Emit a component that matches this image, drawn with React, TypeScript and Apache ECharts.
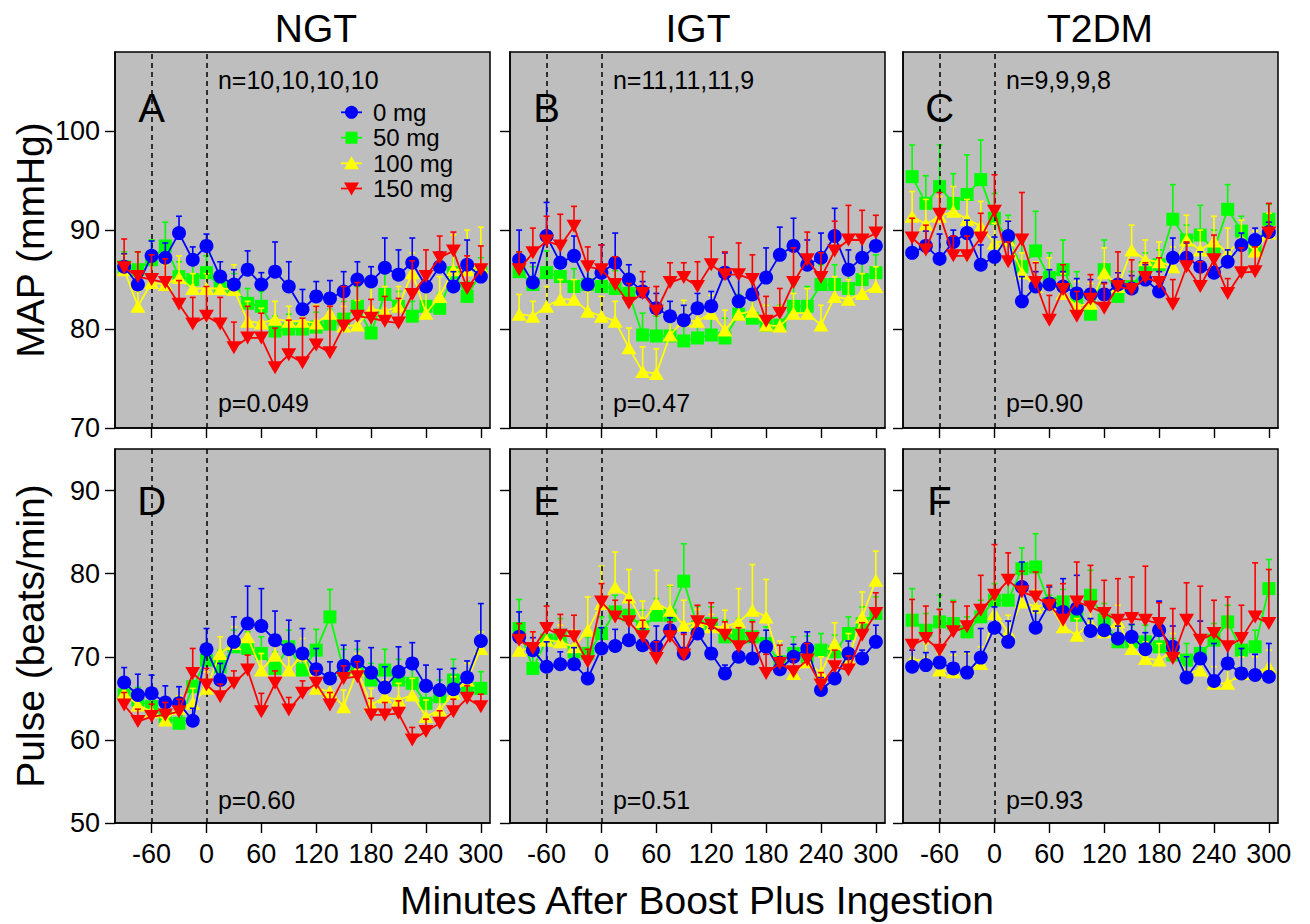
import React, { useEffect, useRef } from "react";
import * as echarts from "echarts";

// ---------- DATA ----------
const times = [-90, -75, -60, -45, -30, -15, 0, 15, 30, 45, 60, 75, 90, 105, 120, 135, 150, 165, 180, 195, 210, 225, 240, 255, 270, 285, 300];
const xTicks = [-60, 0, 60, 120, 180, 240, 300];
const mapTicks = [70, 80, 90, 100];
const pulseTicks = [50, 60, 70, 80, 90];
const groups = ["NGT", "IGT", "T2DM"];
const doses = ["0 mg", "50 mg", "100 mg", "150 mg"];
const nTexts = ["n=10,10,10,10", "n=11,11,11,9", "n=9,9,9,8"];
const mapPTexts = ["p=0.049", "p=0.47", "p=0.90"];
const pulsePTexts = ["p=0.60", "p=0.51", "p=0.93"];
const panelLetters = ["A", "B", "C", "D", "E", "F"];
const doseLines = [-60, 0];

// MAP, NGT
const mapNGT0 = [86.3, 84.5, 87.4, 87.2, 89.7, 87.0, 88.4, 85.3, 84.5, 86.0, 84.5, 85.8, 84.3, 82.0, 83.3, 83.1, 83.8, 85.0, 84.8, 86.2, 85.5, 86.7, 84.3, 86.3, 84.3, 86.5, 85.3];
const mapNGT0Err = [1.3, 1.2, 1.5, 1.5, 1.7, 1.3, 1.2, 1.5, 1.5, 1.9, 1.2, 3.0, 2.5, 2.0, 1.5, 1.8, 2.0, 1.8, 1.5, 3.0, 2.5, 2.5, 1.5, 1.5, 1.5, 2.5, 1.0];
const mapNGT50 = [86.3, 86.0, 87.0, 88.4, 85.3, 85.0, 85.7, 84.3, 84.1, 82.6, 82.3, 79.8, 80.0, 80.0, 80.2, 80.5, 81.0, 82.3, 79.6, 83.5, 82.3, 81.3, 82.3, 82.1, 85.7, 83.3, 85.7];
const mapNGT50Err = [1.5, 1.8, 2.0, 2.4, 1.5, 1.5, 1.7, 1.5, 1.5, 1.5, 1.5, 1.5, 1.5, 1.8, 1.5, 1.5, 1.8, 2.0, 2.0, 2.5, 1.5, 1.5, 1.5, 1.5, 2.0, 1.5, 1.5];
const mapNGT100 = [86.0, 82.3, 84.7, 84.5, 85.2, 84.1, 84.1, 84.1, 84.0, 80.8, 80.6, 81.0, 80.8, 80.8, 80.6, 81.6, 80.3, 80.4, 82.0, 81.8, 82.3, 85.7, 81.6, 83.3, 86.0, 86.0, 86.3];
const mapNGT100Err = [1.5, 1.5, 2.2, 2.0, 2.2, 1.5, 1.5, 1.5, 2.5, 2.0, 1.5, 1.8, 1.5, 1.5, 1.8, 1.5, 2.0, 2.5, 2.5, 2.5, 2.0, 2.0, 2.5, 2.0, 3.5, 4.0, 4.0];
const mapNGT150 = [86.2, 85.3, 85.0, 84.7, 82.5, 80.5, 81.3, 80.5, 78.1, 79.1, 79.1, 76.1, 77.4, 76.6, 78.4, 77.6, 80.3, 81.3, 81.1, 80.8, 80.6, 83.5, 85.3, 87.2, 87.9, 84.1, 86.0];
const mapNGT150Err = [2.9, 2.5, 2.5, 2.4, 2.4, 2.7, 3.0, 2.7, 2.6, 3.2, 2.5, 4.0, 3.5, 4.5, 3.9, 4.7, 4.0, 3.4, 1.9, 2.5, 2.5, 3.4, 2.7, 2.2, 1.9, 3.3, 2.4];

// MAP, IGT
const mapIGT0 = [87.0, 84.7, 89.4, 86.7, 87.4, 84.5, 85.7, 86.7, 85.0, 83.8, 82.1, 81.3, 80.9, 82.1, 82.3, 85.7, 82.8, 83.5, 85.2, 87.5, 88.4, 86.5, 87.2, 89.4, 86.0, 87.2, 88.4];
const mapIGT0Err = [3.0, 2.0, 3.4, 2.0, 2.0, 1.8, 2.8, 3.0, 1.5, 1.0, 1.5, 1.5, 1.5, 1.5, 1.5, 2.0, 2.5, 2.0, 3.0, 2.8, 2.8, 2.5, 2.5, 2.8, 2.0, 2.0, 1.2];
const mapIGT50 = [85.8, 84.5, 85.7, 85.3, 84.3, 84.5, 84.3, 84.1, 83.6, 79.4, 79.3, 79.3, 78.8, 79.1, 79.4, 79.1, 81.5, 81.1, 80.4, 80.4, 82.3, 82.3, 84.5, 84.5, 84.1, 85.0, 85.7];
const mapIGT50Err = [2.0, 1.8, 2.2, 2.0, 1.8, 2.0, 2.0, 1.8, 2.0, 2.2, 2.0, 2.2, 2.0, 1.8, 2.0, 2.0, 2.0, 2.2, 2.0, 2.0, 2.2, 2.0, 2.0, 2.0, 2.2, 2.0, 1.8];
const mapIGT100 = [81.5, 81.3, 82.3, 83.0, 83.0, 81.8, 81.3, 80.8, 78.1, 75.7, 75.5, 79.4, 80.9, 80.8, 81.6, 79.9, 81.5, 81.8, 80.4, 80.3, 81.6, 81.6, 80.4, 83.3, 83.0, 83.6, 84.3];
const mapIGT100Err = [2.0, 1.5, 2.0, 2.0, 2.0, 2.0, 2.0, 2.0, 2.0, 2.5, 2.5, 2.2, 2.0, 1.5, 1.8, 2.0, 1.8, 2.0, 2.0, 2.0, 2.0, 2.5, 2.0, 2.0, 2.0, 2.0, 2.0];
const mapIGT150 = [86.0, 87.7, 88.9, 88.4, 90.4, 86.3, 86.0, 84.5, 82.6, 83.6, 81.8, 84.7, 85.2, 84.3, 86.5, 85.5, 85.5, 85.0, 80.8, 81.6, 84.7, 87.0, 85.2, 87.9, 89.0, 89.0, 89.7];
const mapIGT150Err = [1.8, 2.5, 2.5, 3.2, 2.0, 2.0, 2.5, 2.8, 2.0, 2.2, 2.5, 2.0, 1.5, 2.5, 2.8, 2.3, 3.2, 2.5, 2.5, 2.5, 3.5, 2.8, 2.5, 3.0, 3.5, 3.0, 1.8];

// MAP, T2DM
const mapT2DM0 = [87.7, 88.4, 87.1, 88.8, 89.7, 86.5, 87.3, 89.4, 82.8, 84.3, 84.5, 84.3, 83.6, 83.5, 83.5, 84.5, 84.1, 85.0, 83.8, 87.2, 87.2, 86.3, 85.7, 86.8, 88.5, 89.0, 89.8];
const mapT2DM0Err = [1.5, 1.5, 2.5, 1.2, 1.3, 2.0, 2.0, 1.5, 2.5, 1.5, 1.5, 1.5, 1.5, 1.5, 1.2, 1.2, 1.3, 1.5, 2.0, 2.0, 1.5, 1.5, 1.5, 1.2, 1.2, 1.2, 1.0];
const mapT2DM50 = [95.4, 92.7, 94.4, 92.7, 93.6, 95.1, 91.2, 89.0, 86.3, 87.9, 85.2, 86.0, 83.3, 81.5, 86.0, 83.3, 84.3, 86.2, 86.5, 91.1, 89.0, 89.5, 88.0, 92.1, 89.9, 88.0, 91.1];
const mapT2DM50Err = [3.2, 2.8, 4.2, 3.0, 4.0, 4.0, 2.5, 2.5, 2.5, 4.0, 2.5, 3.0, 2.5, 2.5, 3.0, 2.5, 1.5, 1.5, 1.5, 3.5, 1.5, 3.0, 2.0, 2.5, 1.5, 1.5, 1.5];
const mapT2DM100 = [91.4, 90.6, 91.4, 91.9, 91.1, 90.4, 88.7, 89.0, 85.7, 84.3, 84.7, 83.6, 82.3, 82.6, 85.7, 84.3, 88.0, 87.0, 86.8, 86.3, 89.0, 88.0, 88.9, 87.7, 89.0, 87.9, 89.7];
const mapT2DM100Err = [2.5, 2.5, 2.0, 2.5, 2.0, 2.5, 2.0, 2.0, 2.0, 2.5, 2.5, 2.0, 2.5, 2.0, 2.5, 1.5, 2.5, 2.0, 2.0, 2.0, 2.5, 2.0, 2.5, 2.5, 2.0, 2.0, 2.0];
const mapT2DM150 = [89.2, 88.0, 91.6, 87.4, 87.4, 89.2, 91.9, 86.8, 89.0, 84.7, 80.9, 84.0, 81.3, 83.0, 82.1, 84.3, 84.0, 85.2, 84.7, 82.5, 86.3, 84.3, 87.0, 83.6, 85.7, 85.8, 89.7];
const mapT2DM150Err = [2.0, 2.5, 2.2, 2.0, 2.0, 2.5, 3.7, 2.0, 4.8, 2.0, 2.5, 2.5, 2.5, 2.5, 2.5, 3.5, 3.0, 1.5, 2.5, 2.5, 2.5, 2.5, 2.5, 1.5, 2.5, 2.5, 3.0];

// Pulse, NGT
const pulseNGT0 = [66.9, 65.4, 65.6, 64.5, 64.4, 62.3, 70.9, 67.2, 71.8, 74.0, 73.7, 72.0, 70.9, 70.4, 68.5, 67.4, 68.9, 69.4, 68.1, 66.3, 68.2, 69.2, 66.5, 66.0, 66.1, 67.5, 71.9];
const pulseNGT0Err = [1.8, 2.5, 2.2, 2.0, 2.0, 1.5, 2.5, 2.0, 3.0, 4.5, 4.5, 3.5, 3.5, 3.0, 2.5, 2.0, 2.5, 2.5, 3.0, 2.5, 3.0, 2.5, 2.5, 2.5, 2.5, 2.0, 4.5];
const pulseNGT50 = [65.4, 64.8, 64.0, 62.8, 62.0, 66.4, 69.6, 68.8, 71.2, 71.0, 70.4, 68.6, 71.2, 68.4, 70.8, 74.8, 68.4, 68.4, 67.2, 68.4, 67.2, 66.8, 64.4, 65.2, 67.2, 66.2, 66.2];
const pulseNGT50Err = [1.5, 1.5, 1.5, 1.5, 1.5, 1.5, 2.0, 2.0, 2.0, 2.0, 2.0, 2.0, 2.0, 2.0, 2.5, 3.3, 2.5, 2.5, 2.0, 2.5, 2.5, 2.5, 2.0, 2.0, 2.5, 2.0, 2.0];
const pulseNGT100 = [65.6, 64.2, 63.4, 62.4, 63.8, 64.4, 66.2, 70.4, 71.6, 72.4, 68.4, 70.2, 68.4, 70.2, 66.2, 65.8, 64.0, 68.4, 64.2, 65.2, 64.8, 65.4, 62.8, 63.6, 65.6, 67.2, 71.0];
const pulseNGT100Err = [1.5, 1.5, 1.5, 1.5, 1.5, 1.8, 2.0, 2.0, 2.0, 2.0, 2.0, 2.0, 2.0, 2.0, 2.0, 2.0, 2.0, 2.0, 2.0, 2.0, 2.0, 2.0, 2.0, 2.0, 2.0, 2.0, 2.0];
const pulseNGT150 = [64.2, 62.2, 62.8, 63.0, 63.4, 68.0, 66.6, 65.2, 66.8, 68.4, 63.4, 66.8, 63.6, 65.6, 66.8, 64.2, 67.4, 67.6, 63.0, 63.0, 63.2, 60.0, 61.0, 62.0, 63.4, 65.0, 64.0];
const pulseNGT150Err = [1.5, 1.5, 1.5, 1.5, 1.5, 3.0, 2.0, 1.5, 1.5, 1.8, 2.2, 1.5, 1.5, 1.5, 1.5, 1.5, 1.5, 1.8, 2.0, 1.5, 1.5, 1.5, 1.5, 1.5, 1.5, 1.5, 1.5];

// Pulse, IGT
const pulseIGT0 = [72.4, 70.8, 68.8, 69.1, 69.1, 67.4, 71.0, 71.3, 72.0, 71.4, 71.2, 73.2, 70.4, 72.8, 70.4, 68.0, 70.0, 69.8, 71.2, 68.5, 70.0, 71.0, 66.0, 67.4, 70.4, 69.8, 71.8];
const pulseIGT0Err = [3.0, 1.5, 3.0, 1.5, 2.0, 2.0, 2.5, 2.0, 2.0, 2.0, 2.5, 1.5, 2.5, 1.5, 3.0, 1.0, 1.5, 2.0, 2.0, 1.5, 1.5, 2.0, 1.5, 1.5, 1.5, 1.0, 2.0];
const pulseIGT50 = [73.4, 68.6, 72.0, 72.6, 70.6, 70.4, 72.8, 75.4, 75.0, 73.6, 75.0, 75.0, 79.1, 73.6, 74.0, 72.4, 72.6, 72.4, 71.6, 69.4, 70.4, 70.0, 70.8, 70.6, 72.8, 74.0, 75.2];
const pulseIGT50Err = [3.5, 2.0, 2.0, 2.0, 2.0, 2.0, 2.0, 2.0, 2.5, 2.0, 2.0, 3.5, 4.5, 2.5, 2.0, 2.0, 2.0, 2.0, 2.0, 2.0, 2.0, 2.5, 2.0, 2.0, 2.0, 2.0, 2.0];
const pulseIGT100 = [70.8, 71.0, 72.0, 71.8, 71.2, 73.2, 76.4, 78.4, 77.2, 74.2, 76.4, 75.6, 73.8, 74.2, 73.6, 73.6, 74.2, 75.6, 74.8, 69.4, 68.0, 69.4, 68.0, 71.6, 69.8, 74.8, 79.2];
const pulseIGT100Err = [2.0, 2.0, 2.0, 2.0, 2.0, 4.0, 4.5, 4.2, 3.3, 2.5, 4.0, 3.0, 3.0, 1.5, 1.5, 2.0, 4.0, 5.5, 4.5, 2.5, 2.0, 2.0, 2.0, 2.5, 3.0, 3.0, 3.5];
const pulseIGT150 = [72.0, 71.0, 73.4, 72.6, 72.4, 69.4, 76.6, 74.8, 74.2, 72.4, 69.8, 72.4, 70.2, 74.2, 73.8, 72.6, 71.2, 72.2, 68.0, 69.2, 68.2, 69.6, 66.6, 68.8, 68.4, 72.6, 75.2];
const pulseIGT150Err = [2.0, 2.0, 2.7, 2.5, 2.6, 1.5, 2.2, 2.0, 2.6, 2.0, 2.0, 1.8, 2.5, 2.0, 2.7, 1.6, 2.3, 2.0, 2.3, 2.2, 1.5, 2.0, 1.5, 2.0, 1.7, 1.5, 2.5];

// Pulse, T2DM
const pulseT2DM0 = [68.8, 69.0, 69.3, 68.6, 68.1, 69.9, 73.5, 71.8, 78.4, 73.5, 76.4, 75.4, 75.8, 73.1, 73.2, 72.2, 72.4, 70.9, 73.2, 71.2, 67.5, 69.8, 67.1, 69.2, 68.0, 67.8, 67.6];
const pulseT2DM0Err = [2.0, 1.5, 2.0, 2.0, 2.5, 3.5, 2.5, 2.5, 3.0, 2.0, 2.0, 4.0, 4.0, 1.5, 2.5, 1.5, 1.5, 2.0, 3.5, 2.5, 2.5, 4.5, 4.5, 2.5, 3.0, 2.5, 4.0];
const pulseT2DM50 = [74.4, 73.2, 74.2, 74.0, 73.0, 74.8, 76.8, 76.8, 80.6, 80.8, 76.4, 76.6, 75.0, 77.4, 74.4, 71.8, 71.8, 71.8, 71.2, 70.2, 69.6, 70.4, 72.0, 74.2, 70.8, 71.2, 78.2];
const pulseT2DM50Err = [3.8, 2.0, 3.2, 2.8, 1.8, 2.0, 2.0, 3.0, 2.5, 4.0, 1.0, 1.5, 2.0, 3.0, 2.0, 2.0, 2.0, 2.0, 2.0, 2.0, 2.0, 2.0, 2.0, 2.0, 2.0, 2.0, 3.5];
const pulseT2DM100 = [69.6, 69.6, 68.4, 68.2, 68.4, 69.2, 75.2, 73.0, 76.6, 76.0, 76.4, 73.6, 72.6, 74.0, 73.0, 74.2, 71.0, 69.8, 69.6, 70.8, 68.0, 68.4, 66.8, 66.8, 68.0, 68.0, 68.8];
const pulseT2DM100Err = [2.0, 2.0, 2.0, 2.0, 2.0, 2.0, 2.0, 2.0, 2.0, 2.0, 2.0, 2.0, 2.0, 2.0, 2.0, 2.0, 2.0, 2.0, 2.0, 2.0, 2.0, 2.0, 2.0, 2.0, 2.0, 2.0, 2.0];
const pulseT2DM150 = [71.4, 72.2, 70.8, 73.0, 73.6, 75.6, 77.4, 79.2, 77.8, 77.2, 76.2, 74.4, 76.6, 76.0, 75.2, 74.4, 74.6, 74.4, 74.0, 69.8, 74.4, 72.0, 72.8, 71.2, 72.2, 74.8, 74.0];
const pulseT2DM150Err = [5.5, 3.9, 4.9, 3.6, 2.5, 4.2, 6.1, 3.3, 2.5, 3.0, 2.4, 4.4, 4.8, 5.0, 4.0, 5.0, 5.0, 6.5, 2.5, 6.0, 4.5, 6.5, 4.0, 6.0, 4.0, 6.5, 6.5];

// ---------- STYLE / LAYOUT ----------
const FONT = "'Liberation Sans', Arial, Helvetica, sans-serif";
const doseColors = ["#0000FF", "#00FF00", "#FFFF00", "#FF0000"];
const doseSymbols = ["circle", "rect", "triangle", "path://M0,0L10,0L5,8.66Z"];
const doseSizes: any[] = [14, 13, [15, 13], [15, 13]];
const doseZ = [3, 1, 2, 4]; // drawing order: green, yellow, blue, red

const colLeft = [115, 510, 903];
const panelW = 375;
const rowTop = [52, 449];
const rowH = [376, 374];
const xMin = -100;
const xMax = 310;
const yRange = [
  [70, 108],
  [50, 95],
];
const titleX = [316, 698, 1100];

const panels = [
  { means: [mapNGT0, mapNGT50, mapNGT100, mapNGT150], errs: [mapNGT0Err, mapNGT50Err, mapNGT100Err, mapNGT150Err] },
  { means: [mapIGT0, mapIGT50, mapIGT100, mapIGT150], errs: [mapIGT0Err, mapIGT50Err, mapIGT100Err, mapIGT150Err] },
  { means: [mapT2DM0, mapT2DM50, mapT2DM100, mapT2DM150], errs: [mapT2DM0Err, mapT2DM50Err, mapT2DM100Err, mapT2DM150Err] },
  { means: [pulseNGT0, pulseNGT50, pulseNGT100, pulseNGT150], errs: [pulseNGT0Err, pulseNGT50Err, pulseNGT100Err, pulseNGT150Err] },
  { means: [pulseIGT0, pulseIGT50, pulseIGT100, pulseIGT150], errs: [pulseIGT0Err, pulseIGT50Err, pulseIGT100Err, pulseIGT150Err] },
  { means: [pulseT2DM0, pulseT2DM50, pulseT2DM100, pulseT2DM150], errs: [pulseT2DM0Err, pulseT2DM50Err, pulseT2DM100Err, pulseT2DM150Err] },
];

const xPix = (col: number, v: number) => colLeft[col] + ((v - xMin) / (xMax - xMin)) * panelW;

function buildOption() {
  const grid: any[] = [];
  const xAxis: any[] = [];
  const yAxis: any[] = [];
  const series: any[] = [];
  const graphic: any[] = [];

  panels.forEach((panel, p) => {
    const row = Math.floor(p / 3);
    const col = p % 3;
    grid.push({
      left: colLeft[col],
      top: rowTop[row],
      width: panelW,
      height: rowH[row],
      show: true,
      backgroundColor: "#BEBEBE",
      borderColor: "#000",
      borderWidth: 1.5,
      containLabel: false,
      outerBoundsMode: "none",
    });
    xAxis.push({
      gridIndex: p,
      type: "value",
      min: xMin,
      max: xMax,
      axisLine: { show: true, onZero: false, lineStyle: { color: "#000", width: 1.5 } },
      axisTick: { show: true, customValues: xTicks, length: 10, lineStyle: { color: "#000", width: 1.4 } },
      axisLabel: {
        show: row === 1,
        customValues: xTicks,
        fontSize: 27,
        fontFamily: FONT,
        color: "#000",
        margin: 17,
      },
      splitLine: { show: false },
    });
    yAxis.push({
      gridIndex: p,
      type: "value",
      min: yRange[row][0],
      max: yRange[row][1],
      axisLine: { show: true, onZero: false, lineStyle: { color: "#000", width: 1.5 } },
      axisTick: { show: true, customValues: row === 0 ? mapTicks : pulseTicks, length: 10, lineStyle: { color: "#000", width: 1.4 } },
      axisLabel: {
        show: col === 0,
        customValues: row === 0 ? mapTicks : pulseTicks,
        fontSize: 27,
        fontFamily: FONT,
        color: "#000",
        margin: 15,
      },
      splitLine: { show: false },
    });

    // dashed reference lines
    series.push({
      type: "line",
      xAxisIndex: p,
      yAxisIndex: p,
      data: [],
      z: 0,
      silent: true,
      markLine: {
        silent: true,
        symbol: ["none", "none"],
        label: { show: false },
        lineStyle: { color: "#000", type: [5, 4], width: 1.5 },
        emphasis: { disabled: true },
        data: doseLines.map((v) => ({ xAxis: v })),
      },
    });

    [1, 2, 0, 3].forEach((d) => {
      const color = doseColors[d];
      const means = panel.means[d];
      const errs = panel.errs[d];
      series.push({
        type: "custom",
        name: doses[d] + " err",
        xAxisIndex: p,
        yAxisIndex: p,
        z: doseZ[d] * 2,
        silent: true,
        encode: { x: 0, y: 1 },
        data: times.map((t, i) => [t, means[i], errs[i]]),
        renderItem: (params: any, api: any) => {
          const x = api.value(0);
          const y = api.value(1);
          const e = api.value(2);
          const p0 = api.coord([x, y]);
          const p1 = api.coord([x, y + e]);
          return {
            type: "group",
            children: [
              { type: "line", shape: { x1: p0[0], y1: p0[1], x2: p1[0], y2: p1[1] }, style: { stroke: color, lineWidth: 1.6 } },
              { type: "line", shape: { x1: p1[0] - 3, y1: p1[1], x2: p1[0] + 3, y2: p1[1] }, style: { stroke: color, lineWidth: 1.6 } },
            ],
          };
        },
      });
      series.push({
        type: "line",
        name: doses[d],
        xAxisIndex: p,
        yAxisIndex: p,
        z: doseZ[d] * 2 + 1,
        data: times.map((t, i) => [t, means[i]]),
        symbol: doseSymbols[d],
        symbolSize: doseSizes[d],
        showSymbol: true,
        showAllSymbol: true,
        itemStyle: { color, borderWidth: 0 },
        lineStyle: { color, width: 1.8 },
        emphasis: { disabled: true },
        silent: true,
      });
    });

    // panel letter
    graphic.push({
      type: "text",
      x: xPix(col, -60),
      y: row === 0 ? 108 : 501,
      z: 100,
      style: { text: panelLetters[p], fontSize: 40, fontFamily: FONT, fill: "#000", textAlign: "center", textVerticalAlign: "middle" },
    });
    // p-values
    graphic.push({
      type: "text",
      x: xPix(col, 0) + 11.5,
      y: row === 0 ? 403 : 800,
      z: 100,
      style: {
        text: row === 0 ? mapPTexts[col] : pulsePTexts[col],
        fontSize: 25,
        fontFamily: FONT,
        fill: "#000",
        textAlign: "left",
        textVerticalAlign: "middle",
      },
    });
    if (row === 0) {
      graphic.push({
        type: "text",
        x: xPix(col, 0) + 11.5,
        y: 80,
        z: 100,
        style: { text: nTexts[col], fontSize: 25, fontFamily: FONT, fill: "#000", textAlign: "left", textVerticalAlign: "middle" },
      });
    }
  });

  // column titles
  groups.forEach((g, c) => {
    graphic.push({
      type: "text",
      x: titleX[c],
      y: 28,
      style: { text: g, fontSize: 39, fontFamily: FONT, fill: "#000", textAlign: "center", textVerticalAlign: "middle" },
    });
  });
  // axis titles
  graphic.push({
    type: "text",
    x: 30,
    y: 240,
    rotation: Math.PI / 2,
    style: { text: "MAP (mmHg)", fontSize: 39, fontFamily: FONT, fill: "#000", textAlign: "center", textVerticalAlign: "middle" },
  });
  graphic.push({
    type: "text",
    x: 30,
    y: 636,
    rotation: Math.PI / 2,
    style: { text: "Pulse (beats/min)", fontSize: 39, fontFamily: FONT, fill: "#000", textAlign: "center", textVerticalAlign: "middle" },
  });
  graphic.push({
    type: "text",
    x: 697,
    y: 900,
    style: { text: "Minutes After Boost Plus Ingestion", fontSize: 39, fontFamily: FONT, fill: "#000", textAlign: "center", textVerticalAlign: "middle" },
  });

  // legend (panel A)
  const legRows = [112.3, 137.7, 163.3, 188.5];
  const legX1 = 341;
  const legX2 = 362;
  const legCx = 351.5;
  doses.forEach((name, d) => {
    const y = legRows[d];
    const color = doseColors[d];
    graphic.push({ type: "line", z: 100, shape: { x1: legX1, y1: y, x2: legX2, y2: y }, style: { stroke: color, lineWidth: 1.8 } });
    let sym: any;
    if (d === 0) sym = { type: "circle", shape: { cx: legCx, cy: y, r: 6.5 } };
    else if (d === 1) sym = { type: "rect", shape: { x: legCx - 6, y: y - 6, width: 12, height: 12 } };
    else if (d === 2)
      sym = { type: "polygon", shape: { points: [[legCx, y - 7], [legCx - 7.5, y + 6], [legCx + 7.5, y + 6]] } };
    else sym = { type: "polygon", shape: { points: [[legCx - 7.5, y - 6], [legCx + 7.5, y - 6], [legCx, y + 7]] } };
    graphic.push({ ...sym, z: 101, style: { fill: color } });
    graphic.push({
      type: "text",
      z: 101,
      x: 373,
      y,
      style: { text: name, fontSize: 24, lineHeight: 22, fontFamily: FONT, fill: "#000", textAlign: "left", textVerticalAlign: "middle" },
    });
  });

  return {
    animation: false,
    backgroundColor: "#FFFFFF",
    textStyle: { fontFamily: FONT },
    grid,
    xAxis,
    yAxis,
    series,
    graphic: { elements: graphic },
  };
}

const App = () => {
  const ref = useRef<HTMLDivElement>(null);
  useEffect(() => {
    document.body.style.margin = "0";
    const chart = echarts.init(ref.current as HTMLDivElement, null, { renderer: "svg" });
    chart.setOption(buildOption() as any);
    return () => {
      chart.dispose();
    };
  }, []);
  return <div ref={ref} style={{ width: 1310, height: 924, background: "#fff" }} />;
};

export default App;
